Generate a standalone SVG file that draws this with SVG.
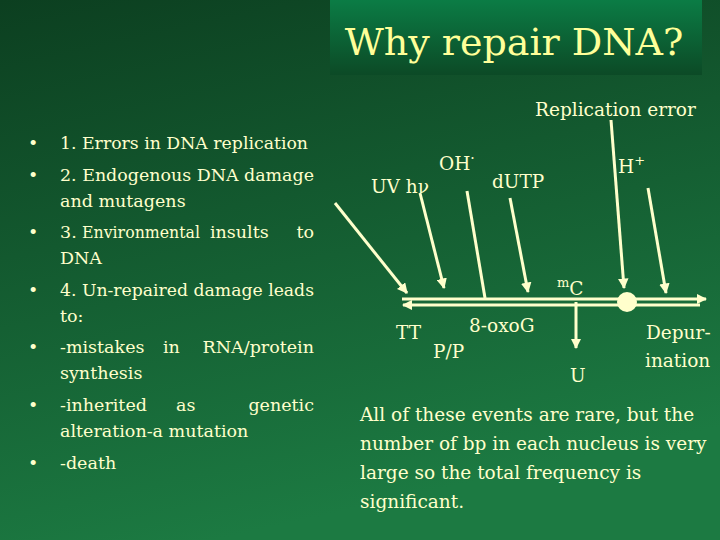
<svg xmlns="http://www.w3.org/2000/svg" width="720" height="540" viewBox="0 0 720 540" font-family="'DejaVu Serif', serif">
<defs>
<linearGradient id="bg" x1="0" y1="0" x2="0.3" y2="1"><stop offset="0" stop-color="#0c3f20"/><stop offset="1" stop-color="#1c7a42"/></linearGradient>
<linearGradient id="tb" x1="0" y1="0" x2="0" y2="1"><stop offset="0" stop-color="#0b7c45"/><stop offset="1" stop-color="#0c4a26"/></linearGradient>
<marker id="ah" viewBox="0 0 10 10" refX="9" refY="5" markerWidth="3.5" markerHeight="3.5" orient="auto"><path d="M0,0 L10,5 L0,10 z" fill="#ffffcc"/></marker>
<style>
text{font-family:'DejaVu Serif',serif;fill:#ffffcc;font-size:18.5px}
#bullets text{font-size:17.5px}
.t{font-size:38px;fill:#ffff99}
.l{stroke:#ffffcc;stroke-width:3;fill:none}
</style>
</defs>
<rect width="720" height="540" fill="url(#bg)"/>
<rect x="330" y="0" width="372" height="75" fill="url(#tb)"/>
<text class="t" x="514" y="55" text-anchor="middle">Why repair DNA?</text>

<g id="bullets">
<text x="28" y="149">•</text><text x="60" y="149" textLength="248" lengthAdjust="spacingAndGlyphs">1. Errors in DNA replication</text>
<text x="28" y="181">•</text><text x="60" y="181" textLength="254" lengthAdjust="spacingAndGlyphs">2. Endogenous DNA damage</text>
<text x="60" y="207">and mutagens</text>
<text x="28" y="238">•</text><text x="60" y="238">3.</text><text x="82" y="238" textLength="118" lengthAdjust="spacingAndGlyphs">Environmental</text><text x="210" y="238">insults</text><text x="314" y="238" text-anchor="end">to</text>
<text x="60" y="264">DNA</text>
<text x="28" y="296">•</text><text x="60" y="296" textLength="254" lengthAdjust="spacingAndGlyphs">4. Un-repaired damage leads</text>
<text x="60" y="322">to:</text>
<text x="28" y="353">•</text><text x="60" y="353">-mistakes</text><text x="163" y="353">in</text><text x="314" y="353" text-anchor="end">RNA/protein</text>
<text x="60" y="379">synthesis</text>
<text x="28" y="411">•</text><text x="60" y="411">-inherited</text><text x="176" y="411">as</text><text x="314" y="411" text-anchor="end">genetic</text>
<text x="60" y="437">alteration-a mutation</text>
<text x="28" y="469">•</text><text x="60" y="469">-death</text>
</g>

<g id="labels">
<text x="535" y="116">Replication error</text>
<text x="371" y="193">UV hν</text>
<text x="439" y="170">OH<tspan dy="-7" font-size="14">·</tspan></text>
<text x="492" y="188">dUTP</text>
<text x="618" y="173">H<tspan dy="-8" font-size="13">+</tspan></text>
<text x="557" y="295"><tspan font-size="13" dy="-8">m</tspan><tspan dy="8">C</tspan></text>
<text x="396" y="339">TT</text>
<text x="433" y="358">P/P</text>
<text x="469" y="332">8-oxoG</text>
<text x="570" y="382">U</text>
<text x="646" y="339">Depur-</text>
<text x="645" y="367">ination</text>
</g>

<g id="connectors">
<line class="l" x1="402" y1="299" x2="706" y2="299" marker-end="url(#ah)"/>
<line class="l" x1="700" y1="305" x2="403" y2="305" marker-end="url(#ah)"/>
<circle cx="627" cy="302" r="10" fill="#ffffcc"/>
<line class="l" x1="335" y1="203" x2="407" y2="293" marker-end="url(#ah)"/>
<line class="l" x1="420" y1="193" x2="444" y2="288" marker-end="url(#ah)"/>
<line class="l" x1="467" y1="191" x2="485" y2="298"/>
<line class="l" x1="510" y1="198" x2="528" y2="292" marker-end="url(#ah)"/>
<line class="l" x1="611" y1="120" x2="624" y2="288" marker-end="url(#ah)"/>
<line class="l" x1="648" y1="188" x2="666" y2="293" marker-end="url(#ah)"/>
<line class="l" x1="576" y1="302" x2="576" y2="348" marker-end="url(#ah)"/>
</g>

<g id="note">
<text x="360" y="421">All of these events are rare, but the</text>
<text x="360" y="450">number of bp in each nucleus is very</text>
<text x="360" y="479">large so the total frequency is</text>
<text x="360" y="508">significant.</text>
</g>
</svg>
